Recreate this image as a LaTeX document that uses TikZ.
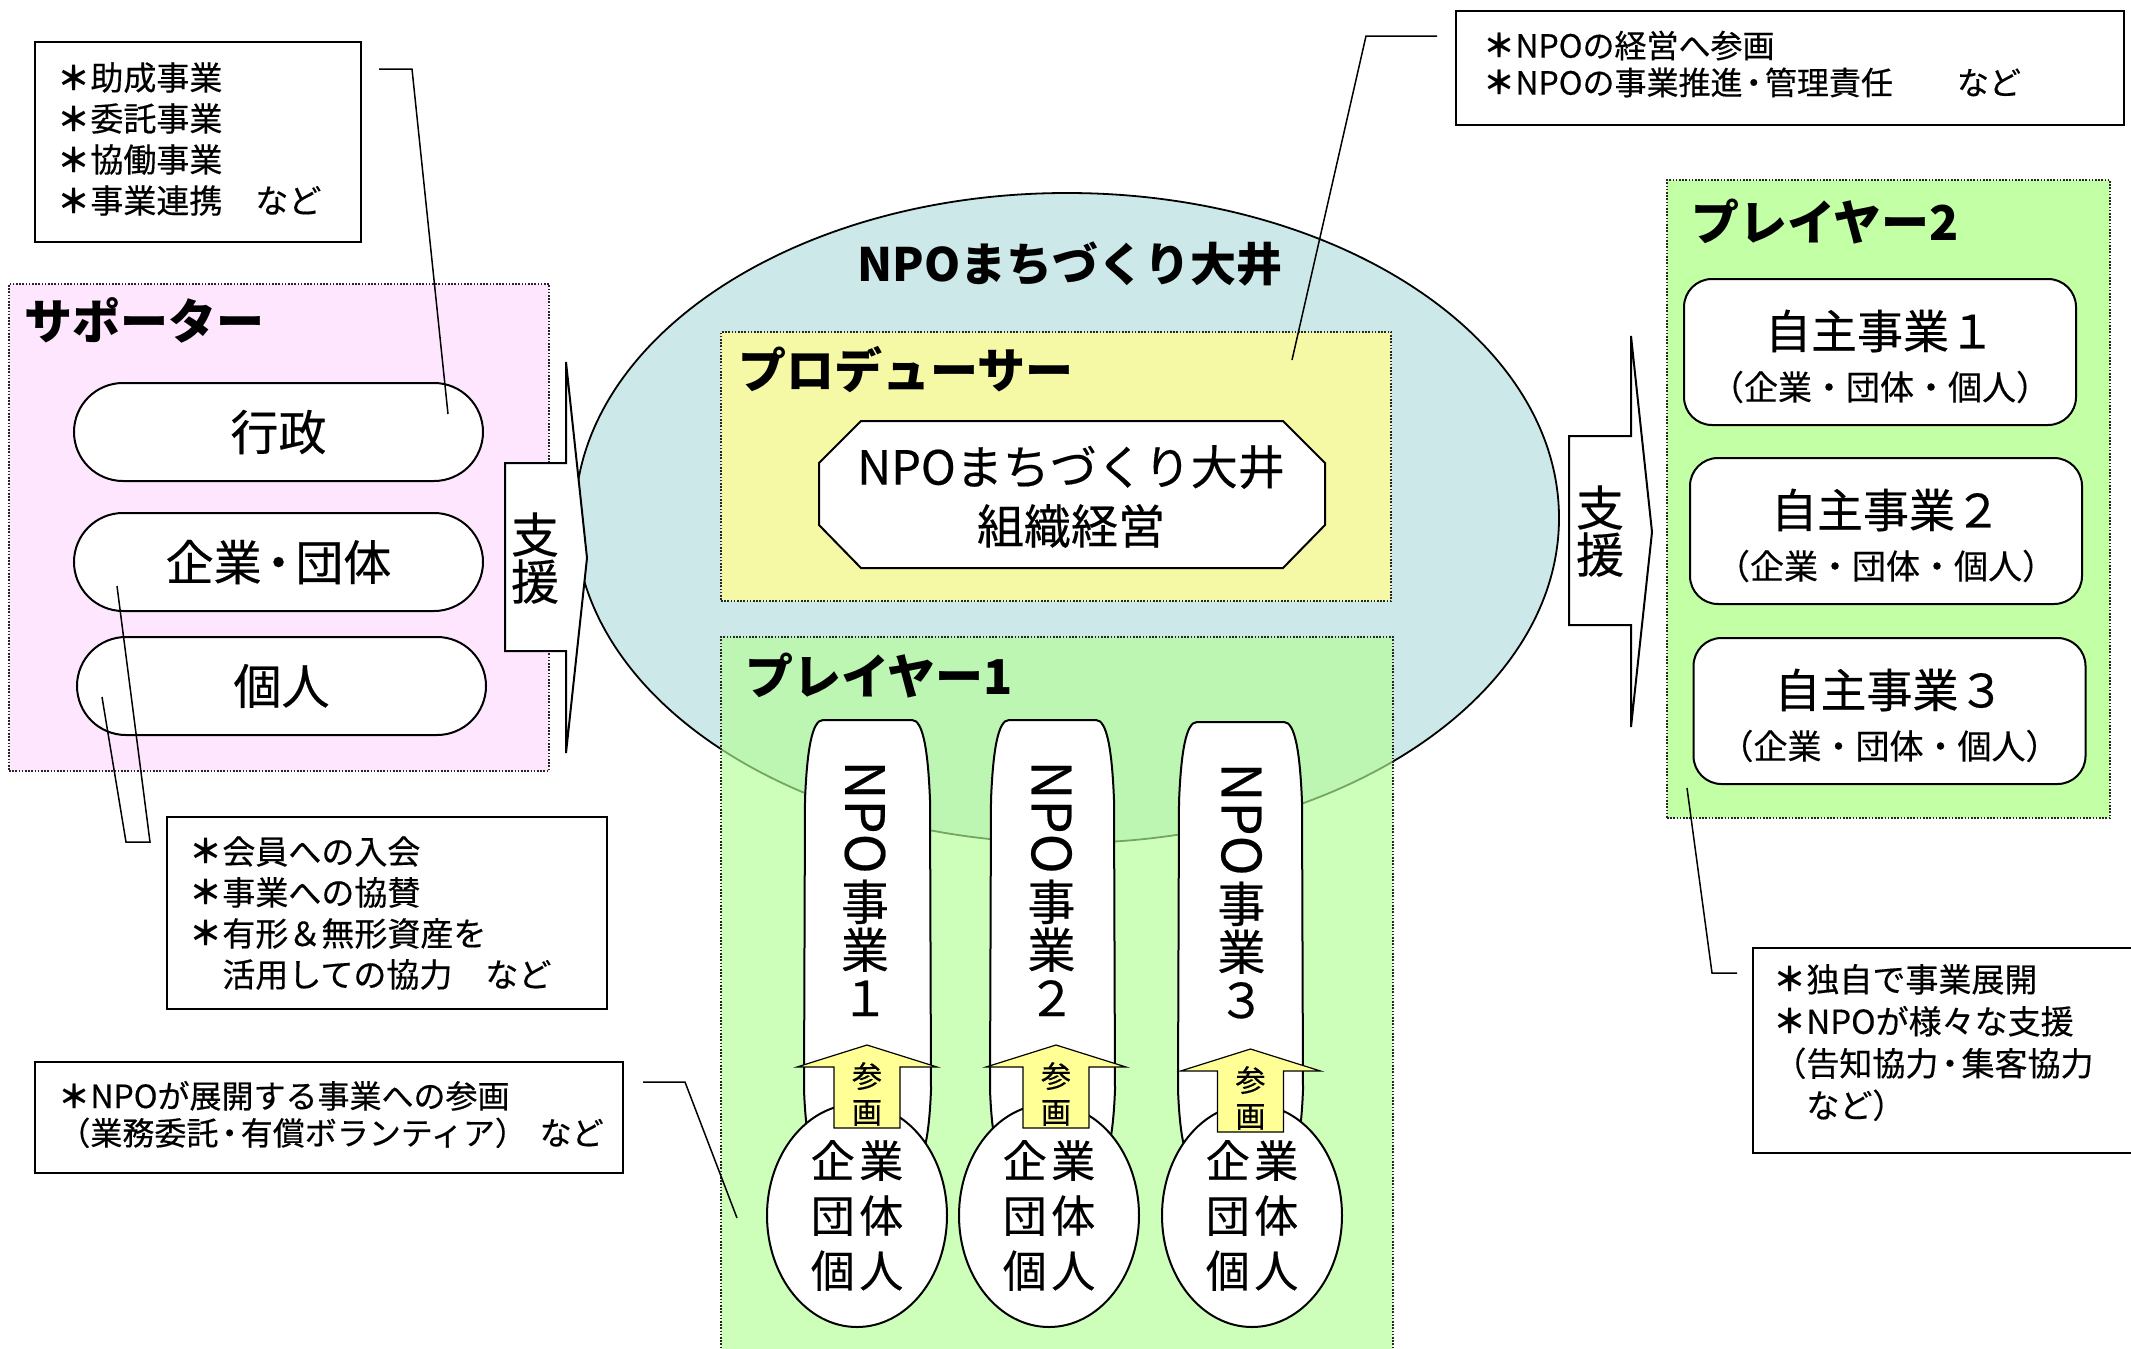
\documentclass[tikz,border=0pt]{standalone}
\usepackage{fontspec}
\setmainfont{Noto Sans CJK JP}[FakeBold=0.4, BoldFeatures={FakeBold=0}]
\usepackage{graphicx}
\usetikzlibrary{shapes.geometric}
\definecolor{pinkbg}{RGB}{255,230,255}
\definecolor{ellblue}{RGB}{205,232,232}
\definecolor{prodyel}{RGB}{245,249,165}
\definecolor{pgreen}{RGB}{180,255,150}
\definecolor{ptwogreen}{RGB}{195,255,165}
\definecolor{arryel}{RGB}{255,255,150}
\newcommand{\kdot}{\hspace{-.15em}・\hspace{-.15em}}
\newcommand{\kast}{{\bfseries ＊}}
\tikzset{
  dotbox/.style={draw=black!85, line width=0.8pt, dash pattern=on 0.8pt off 0.8pt, inner sep=0pt},
  notebox/.style={draw, line width=1pt, fill=white, inner sep=0pt},
  notetext/.style={inner sep=0pt, align=left, anchor=west, font=\fontsize{16.5pt}{20.5pt}\selectfont},
  titletext/.style={inner sep=0pt, anchor=west, font=\fontsize{24pt}{28pt}\selectfont\bfseries},
  spill/.style={draw, fill=white, line width=1pt, rounded corners=24.5pt, minimum width=204.5pt, minimum height=49pt, inner sep=0pt, font=\fontsize{24pt}{28pt}\selectfont},
  rbox/.style={draw, fill=white, line width=1pt, rounded corners=14pt, minimum width=196pt, minimum height=73pt, inner sep=0pt},
  bigtext/.style={inner sep=0pt, font=\fontsize{23pt}{27pt}\selectfont},
  smalltext/.style={inner sep=0pt, font=\fontsize{17pt}{19pt}\selectfont},
  pilltxt/.style={inner sep=0pt, align=center, anchor=north, font=\fontsize{24pt}{24pt}\selectfont},
  elltxt/.style={inner sep=0pt, align=center, font=\fontsize{22pt}{27.5pt}\selectfont},
  sankaku/.style={inner sep=0pt, align=center, font=\fontsize{15pt}{18pt}\selectfont},
  shientxt/.style={inner sep=0pt, align=center, font=\fontsize{24pt}{23.5pt}\selectfont},
  callout/.style={line width=0.75pt},
  blockarrow/.style={draw, fill=white, line width=1pt, line join=miter},
}
\begin{document}
\begin{tikzpicture}[x=0.5pt,y=-0.5pt]
\useasboundingbox (0,0) rectangle (2131,1349);
\fill[white] (0,0) rectangle (2131,1349);
\clip (0,0) rectangle (2131,1349);

% ---------- note boxes ----------
\node[notebox, minimum width=163pt, minimum height=100pt] (n1) at (198,142) {};
\node[notetext] (n1t) at ([xshift=11.5pt,yshift=1.5pt]n1.west) {\kast 助成事業\\\kast 委託事業\\\kast 協働事業\\\kast 事業連携　など};

\node[notebox, minimum width=334pt, minimum height=57pt] (n2) at (1790,68) {};
\node[notetext, font=\fontsize{16pt}{18.5pt}\selectfont] (n2t) at ([xshift=14pt,yshift=2pt]n2.west) {\kast NPOの経営へ参画\\\kast NPOの事業推進\kdot 管理責任　　など};

\node[notebox, minimum width=220pt, minimum height=96pt] (n3) at (387,913) {};
\node[notetext] (n3t) at ([xshift=11.5pt]n3.west) {\kast 会員への入会\\\kast 事業への協賛\\\kast 有形＆無形資産を\\　活用しての協力　など};

\node[notebox, minimum width=294pt, minimum height=55.5pt] (n4) at (329,1117.5) {};
\node[notetext, font=\fontsize{16pt}{18.5pt}\selectfont] (n4t) at ([xshift=12pt,yshift=1.5pt]n4.west) {\kast NPOが展開する事業への参画\\（業務委託\kdot 有償ボランティア）\hspace{.4em}など};

\node[notebox, minimum width=193.5pt, minimum height=102.5pt] (n5) at (1946.5,1050.5) {};
\node[notetext, font=\fontsize{16.5pt}{21pt}\selectfont] (n5t) at ([xshift=10.5pt,yshift=4pt]n5.west) {\kast 独自で事業展開\\\kast NPOが様々な支援\\（告知協力\kdot 集客協力\\　など）};

% ---------- supporter ----------
\node[dotbox, fill=pinkbg, minimum width=270pt, minimum height=243.5pt] (sup) at (279,527.5) {};
\node[titletext] (supt) at (24,320) {サポーター};
\node[spill] (s1) at (278.5,432) {行政};
\node[spill] (s2) at (278.5,562) {企業\kdot 団体};
\node[spill] (s3) at (281.5,686) {個人};

% ---------- NPO ellipse ----------
\node[ellipse, draw, fill=ellblue, line width=0.9pt, minimum width=492pt, minimum height=325pt, inner sep=0pt] (npo) at (1067,518) {};
\node[inner sep=0pt, font=\fontsize{23pt}{27pt}\selectfont\bfseries] (npot) at (1070,264) {NPOまちづくり大井};

% ---------- producer ----------
\node[dotbox, fill=prodyel, minimum width=335pt, minimum height=134.5pt] (prod) at (1056,466.5) {};
\node[titletext] (prodt) at (738,370) {プロデューサー};
\path[draw, fill=white, line width=1pt, line join=miter] (819,463) -- (861,421) -- (1283,421) -- (1325,463) -- (1325,525) -- (1283,568) -- (861,568) -- (819,525) -- cycle;
\node[bigtext, font=\fontsize{23.5pt}{28pt}\selectfont] (oct1) at (1071,467) {NPOまちづくり大井};
\node[bigtext, font=\fontsize{23.5pt}{28pt}\selectfont] (oct2) at (1071,526) {組織経営};

% ---------- player 1 ----------
\node[dotbox, fill=pgreen, fill opacity=0.65, minimum width=336pt, minimum height=362pt] (pl1) at (1057,999) {};
\node[titletext] (pl1t) at (745,676) {プレイヤー1};

\foreach \L/\R/\T in {804/931/720, 990/1115/720, 1178/1303/722} {
  \path[draw, fill=white, line width=1pt]
    (\L+1,\T+80) .. controls (\L+3,\T+30) and (\L+8,\T) .. (\L+19,\T)
    -- (\R-19,\T) .. controls (\R-8,\T) and (\R-3,\T+30) .. (\R-1,\T+80)
    -- (\R,1090) .. controls (\R-2,1140) and (\R-8,1165) .. (\R-19,1165)
    -- (\L+19,1165) .. controls (\L+8,1165) and (\L+2,1140) .. (\L,1090) -- cycle;
}
\node[pilltxt] (pt1) at (865,760) {{\fontsize{27pt}{27pt}\selectfont\rotatebox{-90}{NPO}}\\[2pt]事\\業\\１};
\node[pilltxt] (pt2) at (1051.5,760) {{\fontsize{27pt}{27pt}\selectfont\rotatebox{-90}{NPO}}\\[2pt]事\\業\\２};
\node[pilltxt] (pt3) at (1241.5,762) {{\fontsize{27pt}{27pt}\selectfont\rotatebox{-90}{NPO}}\\[2pt]事\\業\\３};

\foreach \c/\i in {857/1, 1049/2, 1252/3} {
  \node[ellipse, draw, fill=white, line width=1pt, minimum width=90pt, minimum height=111.5pt, inner sep=0pt] (e\i) at (\c,1215.5) {};
  \node[elltxt] (e\i t) at (\c,1215.5) {企\hspace{.1em}業\\団\hspace{.1em}体\\個\hspace{.1em}人};
}

\foreach \c/\t/\i in {867/1045/1, 1056/1045/2, 1250.5/1049/3} {
  \path[draw, fill=arryel, line width=0.6pt, line join=miter]
    (\c-33,\t+83) -- (\c-33,\t+22) -- (\c-70,\t+22) -- (\c,\t) -- (\c+70,\t+22) -- (\c+33,\t+22) -- (\c+33,\t+83) -- cycle;
  \node[sankaku] (sk\i) at (\c,\t+49) {参\\画};
}

% ---------- support arrows ----------
\path[blockarrow] (505,463) -- (566,463) -- (566,362) -- (587,558) -- (566,753) -- (566,651) -- (505,651) -- cycle;
\node[shientxt] (sh1) at (535,558) {支\\援};
\path[blockarrow] (1569,436) -- (1631,436) -- (1631,336) -- (1652,532) -- (1631,727) -- (1631,625) -- (1569,625) -- cycle;
\node[shientxt] (sh2) at (1600,531) {支\\援};

% ---------- player 2 ----------
\node[dotbox, fill=ptwogreen, minimum width=221.5pt, minimum height=319pt] (pl2) at (1888.5,499) {};
\node[titletext] (pl2t) at (1691,222) {プレイヤー2};
\node[rbox] (j1) at (1880,352) {};
\node[bigtext] (j1a) at ([yshift=10.5pt]j1.center) {自主事業１};
\node[smalltext] (j1b) at ([yshift=-17.5pt]j1.center) {（企業・団体・個人）};
\node[rbox] (j2) at (1886,531) {};
\node[bigtext] (j2a) at ([yshift=10.5pt]j2.center) {自主事業２};
\node[smalltext] (j2b) at ([yshift=-17.5pt]j2.center) {（企業・団体・個人）};
\node[rbox] (j3) at (1889.5,711) {};
\node[bigtext] (j3a) at ([yshift=10.5pt]j3.center) {自主事業３};
\node[smalltext] (j3b) at ([yshift=-17.5pt]j3.center) {（企業・団体・個人）};

% ---------- callout lines ----------
\coordinate (c1a) at (379,69);
\coordinate (c1b) at (412,69);
\coordinate (c1c) at (448,414);
\draw[callout] (c1a) -- (c1b) -- (c1c);

\coordinate (c2a) at (1437,36);
\coordinate (c2b) at (1366,36);
\coordinate (c2c) at (1292,360);
\draw[callout] (c2a) -- (c2b) -- (c2c);

\coordinate (c3a) at (102,697);
\coordinate (c3b) at (126,842);
\coordinate (c3c) at (150,842);
\coordinate (c3d) at (117,586);
\draw[callout] (c3a) -- (c3b) -- (c3c) -- (c3d);

\coordinate (c4a) at (643,1082);
\coordinate (c4b) at (685,1082);
\coordinate (c4c) at (737,1218);
\draw[callout] (c4a) -- (c4b) -- (c4c);

\coordinate (c5a) at (1737,973);
\coordinate (c5b) at (1712,973);
\coordinate (c5c) at (1687,788);
\draw[callout] (c5a) -- (c5b) -- (c5c);
\end{tikzpicture}
\end{document}
